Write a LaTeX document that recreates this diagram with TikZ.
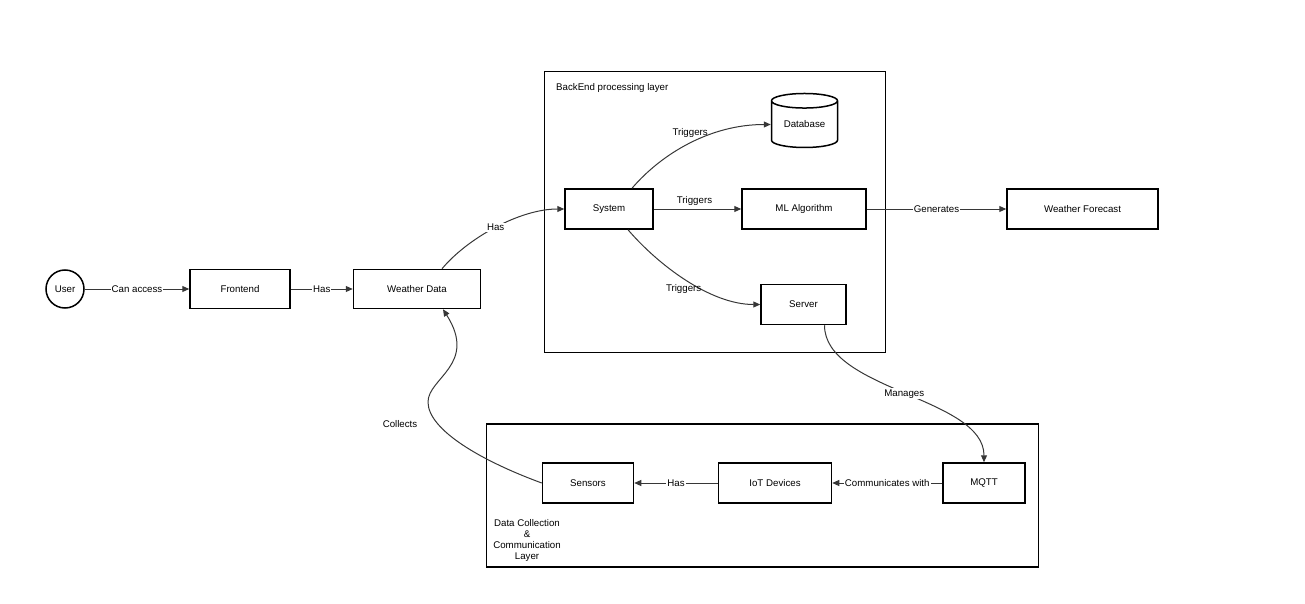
\documentclass[tikz,border=0pt]{standalone}
\usepackage{fontspec}
\setmainfont{Liberation Sans}
\usetikzlibrary{arrows.meta, shapes.geometric, positioning}
\definecolor{lineclr}{RGB}{55,55,55}
\newcommand{\diagfont}{\fontsize{9.7}{11.3}\selectfont}
\tikzset{
  % boxes and layers
  block/.style    = {draw=black, line width=1.5pt, fill=white, minimum height=40, inner sep=2pt, font=\diagfont},
  layer/.style    = {draw=black, line width=1.5pt, inner sep=0pt},
  dbshape/.style  = {cylinder, shape border rotate=90, aspect=0.35, draw=black, line width=1.5pt,
                     minimum width=66, minimum height=54, inner sep=0pt, font=\diagfont},
  actor/.style    = {circle, draw=black, line width=1.5pt, minimum size=38, inner sep=0pt, font=\diagfont},
  % connectors
  conn/.style     = {-{Triangle[length=7pt,width=6pt]}, draw=lineclr, line width=1pt},
  edgelbl/.style  = {fill=white, inner sep=1pt, font=\diagfont},
  plainlbl/.style = {inner sep=1pt, font=\diagfont},
}
\begin{document}
\begin{tikzpicture}[x=1pt, y=-1pt]
  \useasboundingbox (0,0) rectangle (1305,604);
  % layers
  \node[layer, minimum width=341, minimum height=281] (backend) at (715,212) {};
  \node[plainlbl, anchor=west] (backendlbl) at (555,88) {BackEnd processing layer};
  \node[layer, minimum width=552, minimum height=143] (datalayer) at (762.5,495.5) {};
  \node[plainlbl, align=center] (datalbl) at (527,540.5) {Data Collection\\\&\\Communication\\Layer};
  % nodes
  \node[actor] (user) at (65,289) {User};
  \node[block, minimum width=100, minimum height=39] (frontend) at (240,289) {Frontend};
  \node[block, minimum width=127, minimum height=39] (wdata) at (417,289) {Weather Data};
  \node[block, minimum width=88] (system) at (609,209) {System};
  \node[dbshape] (database) at (804.5,124.5) {Database};
  \node[block, minimum width=124] (mlalgo) at (804,209) {ML Algorithm};
  \node[block, minimum width=85] (server) at (803.5,304.5) {Server};
  \node[block, minimum width=151] (forecast) at (1082.5,209) {Weather Forecast};
  \node[block, minimum width=91] (sensors) at (588,483) {Sensors};
  \node[block, minimum width=113] (iot) at (775,483) {IoT Devices};
  \node[block, minimum width=82] (mqtt) at (984,483) {MQTT};
  % connectors
  \draw[conn] (user) -- node[edgelbl] {Can access} (frontend);
  \draw[conn] (frontend) -- node[edgelbl] {Has} (wdata);
  \draw[conn] ([xshift=25]wdata.north) .. controls +(25,-30) and +(-45,0) .. node[edgelbl] {Has} (system.west);
  \draw[conn] ([xshift=23]system.north) .. controls +(30,-35) and +(-60,0) .. node[plainlbl, above=4pt] {Triggers} (database.west);
  \draw[conn] (system) -- node[plainlbl, above=2pt, xshift=-3] {Triggers} (mlalgo);
  \draw[conn] ([xshift=19]system.south) .. controls +(30,35) and +(-50,0) .. node[plainlbl, below=3pt, xshift=-3] {Triggers} (server.west);
  \draw[conn] (mlalgo) -- node[edgelbl] {Generates} (forecast);
  \draw[conn] ([xshift=21]server.south) .. controls +(0,65) and +(0,-65) .. node[edgelbl] {Manages} (mqtt.north);
  \draw[conn] (mqtt) -- node[edgelbl] {Communicates with} (iot);
  \draw[conn] (iot) -- node[edgelbl] {Has} (sensors);
  \coordinate (collectbend) at (428,402);
  \draw[conn] (sensors.west) .. controls +(-60,-22) and +(0,28) .. (collectbend)
    .. controls +(0,-24) and +(35,55) .. ([xshift=26]wdata.south);
  \node[plainlbl] (collectslbl) at (400,424) {Collects};
\end{tikzpicture}
\end{document}
